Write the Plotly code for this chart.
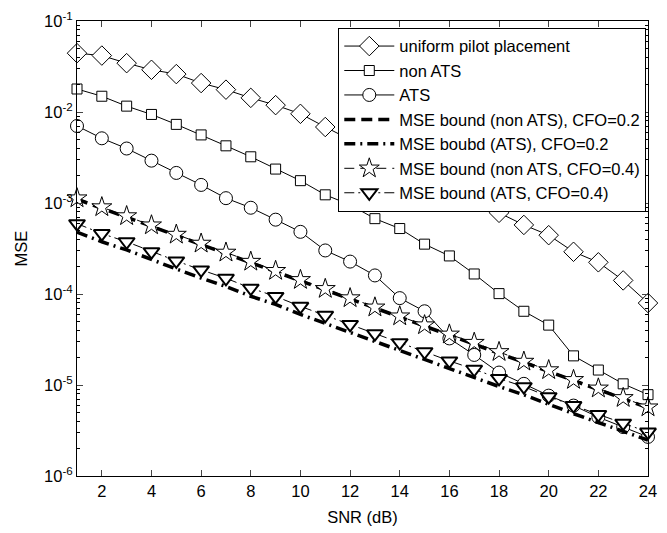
import plotly.graph_objects as go

snr = list(range(1, 25))

uniform = [0.0443, 0.0417, 0.0344, 0.0291, 0.0261, 0.0208, 0.0176, 0.0143, 0.0119, 0.00955,
           0.00684, 0.00498, 0.00359, 0.00259, 0.00190, 0.00147, 0.00125, 0.00078, 0.000574,
           0.000443, 0.000291, 0.000223, 0.000141, 0.0000796]
non_ats = [0.0179, 0.0149, 0.0116, 0.0094, 0.00731, 0.00560, 0.00425, 0.00322, 0.00236, 0.00176,
           0.00123, 0.000955, 0.000673, 0.000524, 0.000353, 0.000262, 0.000166, 0.000101,
           0.0000646, 0.0000455, 0.0000209, 0.0000146, 0.0000103, 0.00000783]
ats = [0.00702, 0.00514, 0.00397, 0.00292, 0.00214, 0.00158, 0.00113, 0.000887, 0.000656,
       0.000482, 0.000301, 0.000227, 0.000160, 0.0000901, 0.0000646, 0.0000325, 0.0000214,
       0.0000137, 0.0000103, 0.00000764, 0.00000594, 0.00000443, 0.00000345, 0.00000269]
bound_non_ats_02 = [0.00110, 0.000880, 0.000700, 0.000555, 0.000440, 0.000350, 0.000280,
                    0.000222, 0.000176, 0.000140, 0.000111, 0.0000880, 0.0000698, 0.0000556,
                    0.0000445, 0.0000352, 0.0000285, 0.0000226, 0.0000177, 0.0000143,
                    0.0000112, 0.00000900, 0.00000708, 0.00000560]
bound_ats_02 = [0.000480, 0.000375, 0.000305, 0.000238, 0.000188, 0.000150, 0.000121,
                0.0000945, 0.0000768, 0.0000597, 0.0000476, 0.0000377, 0.0000298,
                0.0000238, 0.0000189, 0.0000150, 0.0000121, 0.00000962, 0.00000781,
                0.00000608, 0.00000484, 0.00000387, 0.00000311, 0.00000248]
star_non_ats_04 = [0.00113, 0.000902, 0.000719, 0.000570, 0.000450, 0.000359, 0.000286,
                   0.000227, 0.000180, 0.000143, 0.000114, 0.0000902, 0.0000714, 0.0000570,
                   0.0000455, 0.0000360, 0.0000292, 0.0000231, 0.0000181, 0.0000146,
                   0.0000114, 0.00000919, 0.00000722, 0.00000570]
tri_ats_04 = [0.000593, 0.000461, 0.000375, 0.000292, 0.000231, 0.000184, 0.000149, 0.000116,
              0.0000941, 0.0000732, 0.0000584, 0.0000463, 0.0000366, 0.0000292, 0.0000232,
              0.0000184, 0.0000149, 0.0000118, 0.00000958, 0.00000745, 0.00000594,
              0.00000474, 0.00000381, 0.00000304]

x_ticks = list(range(2, 25, 2))
y_tickvals = [1e-6, 1e-5, 1e-4, 1e-3, 1e-2, 1e-1]
y_ticktext = ["10<sup>-6</sup>", "10<sup>-5</sup>", "10<sup>-4</sup>",
              "10<sup>-3</sup>", "10<sup>-2</sup>", "10<sup>-1</sup>"]
y_minor = [m * 10.0 ** e for e in range(-6, -1) for m in range(2, 10)]

FONT = "Liberation Sans, Arial, sans-serif"
FS = 16.5
mk = dict(color="white", line=dict(color="black", width=1))

fig = go.Figure()
fig.add_trace(go.Scatter(x=snr, y=uniform, name="uniform pilot placement", mode="lines+markers",
                         line=dict(color="black", width=1), cliponaxis=False,
                         marker=dict(symbol="diamond", size=15, **mk)))
fig.add_trace(go.Scatter(x=snr, y=non_ats, name="non ATS", mode="lines+markers",
                         line=dict(color="black", width=1), cliponaxis=False,
                         marker=dict(symbol="square", size=10, **mk)))
fig.add_trace(go.Scatter(x=snr, y=ats, name="ATS", mode="lines+markers",
                         line=dict(color="black", width=1), cliponaxis=False,
                         marker=dict(symbol="circle", size=13, **mk)))
fig.add_trace(go.Scatter(x=snr, y=bound_non_ats_02, name="MSE bound (non ATS), CFO=0.2", mode="lines",
                         line=dict(color="black", width=3.5, dash="11px,6px")))
fig.add_trace(go.Scatter(x=snr, y=bound_ats_02, name="MSE boubd (ATS), CFO=0.2", mode="lines",
                         line=dict(color="black", width=3.5, dash="11px,5px,2px,5px")))
fig.add_trace(go.Scatter(x=snr, y=star_non_ats_04, name="MSE bound (non ATS, CFO=0.4)", mode="lines+markers",
                         line=dict(color="black", width=1, dash="10px,6px"), cliponaxis=False,
                         marker=dict(symbol="star", size=15, **mk)))
fig.add_trace(go.Scatter(x=snr, y=tri_ats_04, name="MSE bound (ATS, CFO=0.4)", mode="lines+markers",
                         line=dict(color="black", width=1, dash="10px,4px,2px,4px"), cliponaxis=False,
                         marker=dict(symbol="triangle-down", size=14,
                                     color="white", line=dict(color="black", width=2))))

fig.update_layout(
    width=667, height=533,
    margin=dict(l=77, r=10, t=18, b=57),
    paper_bgcolor="white", plot_bgcolor="white",
    font=dict(family=FONT, size=FS, color="black"),
    showlegend=True,
    legend=dict(x=0.997, y=0.985, xanchor="right", yanchor="top",
                bgcolor="white", bordercolor="black", borderwidth=1,
                font=dict(family=FONT, size=FS, color="black"),
                itemwidth=50, tracegroupgap=0),
    xaxis=dict(range=[1, 24], tickvals=x_ticks, ticks="inside", ticklen=6,
               showline=True, linecolor="black", linewidth=1, mirror="allticks",
               showgrid=False, zeroline=False,
               title=dict(text="SNR (dB)", standoff=12, font=dict(size=FS)),
               tickfont=dict(size=FS)),
    yaxis=dict(type="log", range=[-6, -1], tickvals=y_tickvals, ticktext=y_ticktext,
               ticks="inside", ticklen=6,
               minor=dict(tickvals=y_minor, ticks="inside", ticklen=3, tickcolor="black", showgrid=False),
               showline=True, linecolor="black", linewidth=1, mirror="allticks",
               showgrid=False, zeroline=False,
               title=dict(text="MSE", standoff=12, font=dict(size=FS)),
               tickfont=dict(size=FS)),
)

fig.write_html("out.html")
